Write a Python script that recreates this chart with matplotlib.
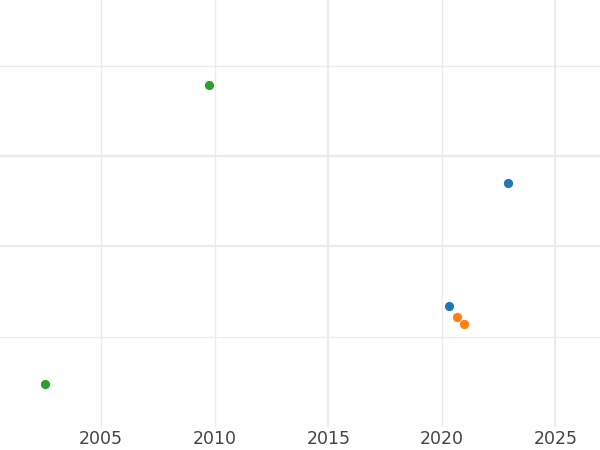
import matplotlib.pyplot as plt
import numpy as np

# values (y has no labels, arbitrary units)
blue_years = [2020.33, 2022.93]
blue_values = [1.34, 2.70]
orange_years = [2020.68, 2020.99]
orange_values = [1.22, 1.14]
green_years = [2002.53, 2009.76]
green_values = [0.48, 3.79]

x_ticks = [2005, 2010, 2015, 2020, 2025]
x_major_grid = [2015, 2025]
x_minor_grid = [2005, 2010, 2020]
y_major_grid = [2, 3]
y_minor_grid = [1, 4]

fig = plt.figure(figsize=(6, 4.5), dpi=100)
ax = fig.add_axes([0, 23 / 450, 1, 427 / 450])

grid_color = "#ebebeb"
for x in x_major_grid:
    ax.axvline(x, color=grid_color, linewidth=1.6, zorder=0)
for x in x_minor_grid:
    ax.axvline(x, color=grid_color, linewidth=0.9, zorder=0)
for y in y_major_grid:
    ax.axhline(y, color=grid_color, linewidth=1.6, zorder=0)
for y in y_minor_grid:
    ax.axhline(y, color=grid_color, linewidth=0.9, zorder=0)

ax.scatter(blue_years, blue_values, s=44, color="#1f77b4", linewidths=0, zorder=3)
ax.scatter(orange_years, orange_values, s=44, color="#ff7f0e", linewidths=0, zorder=3)
ax.scatter(green_years, green_values, s=44, color="#2ca02c", linewidths=0, zorder=3)

ax.set_xlim(2000.55, 2026.96)
ax.set_ylim(0.0, 4.73)
ax.set_xticks(x_ticks)
ax.set_xticklabels([str(t) for t in x_ticks])
ax.set_yticks([])
ax.tick_params(axis="x", length=0, pad=2.3, labelsize=12.5, labelcolor="#444444")
for spine in ax.spines.values():
    spine.set_visible(False)

fig.savefig("out.png", dpi=100)
